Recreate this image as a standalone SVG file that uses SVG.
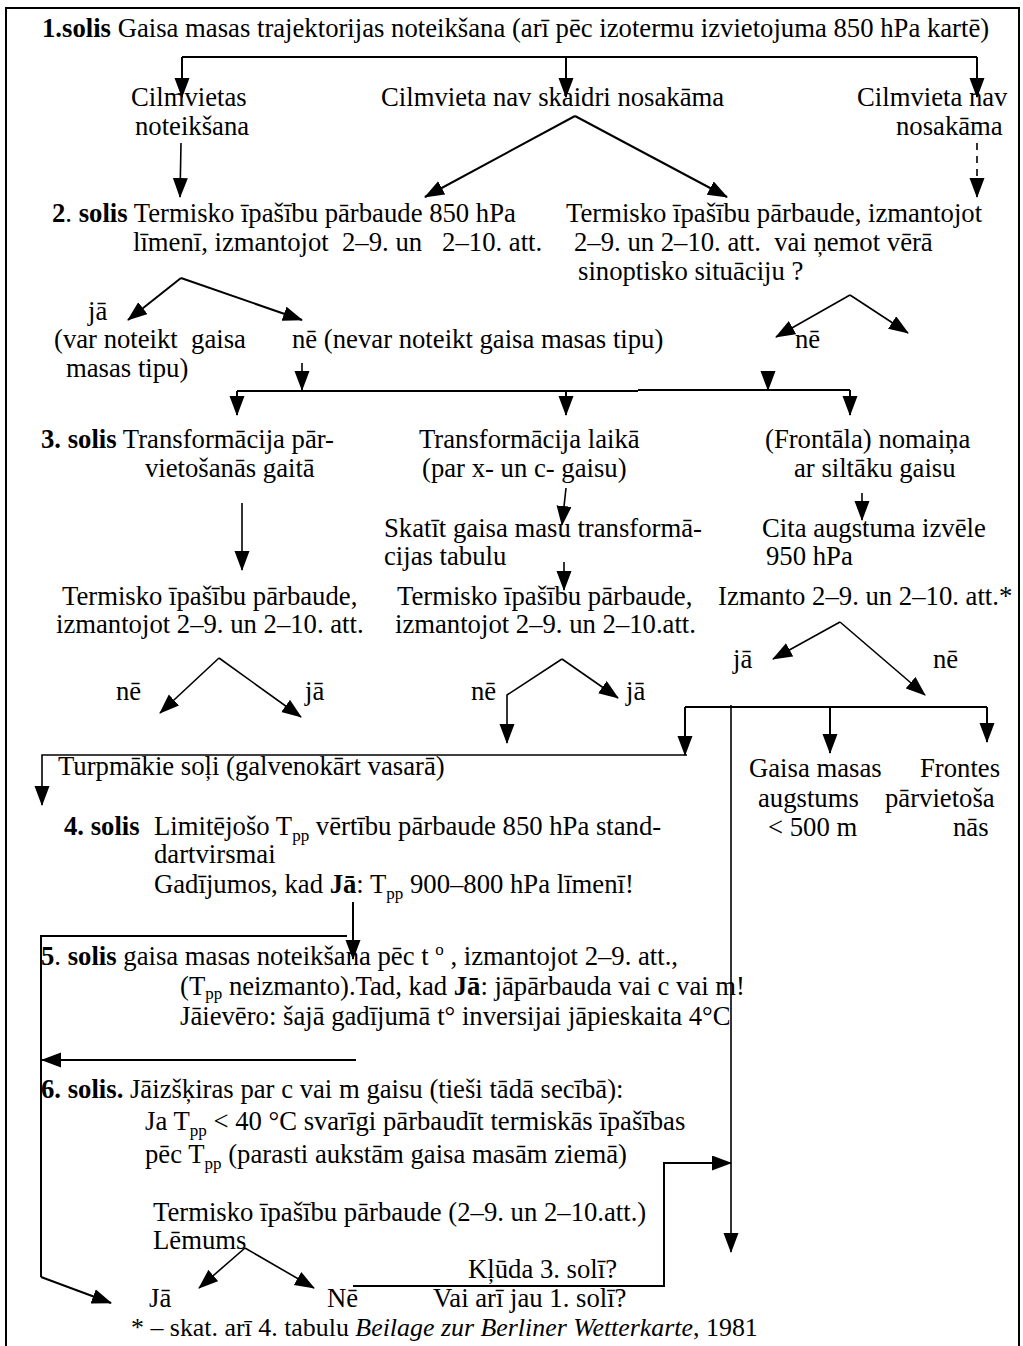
<svg xmlns="http://www.w3.org/2000/svg" width="1023" height="1346" viewBox="0 0 1023 1346" xml:space="preserve">
<defs>
<style>
text{font-family:"Liberation Serif","Times New Roman",serif;font-size:26.7px;fill:#000;white-space:pre}
.b{font-weight:bold}
.i{font-style:italic}
.sub{font-size:17px}
.fn{font-size:25.9px}
.ln{stroke:#000;stroke-width:2;fill:none}
.th{stroke:#000;stroke-width:1.6;fill:none}
.ar{marker-end:url(#ah)}
.dash{stroke-dasharray:7 6}
</style>
<marker id="ah" markerUnits="userSpaceOnUse" markerWidth="20" markerHeight="16" refX="19" refY="7.5" orient="auto" viewBox="0 0 20 16">
<path d="M0,0 L20,7.5 L0,15 z" fill="#000"/>
</marker>
</defs>
<rect width="1023" height="1346" fill="#fff"/>
<path class="ln" d="M6,1346 V8 H1019 V1346" stroke-width="2.5"/>

<g id="connectors">
<path class="ln" d="M182,57 H977"/>
<path class="ln ar" d="M182,57 V97"/>
<path class="ln ar" d="M566,57 V97"/>
<path class="ln ar" d="M977,57 V97"/>
<path class="th ar" d="M181,143 L180,197"/>
<path class="th ar dash" d="M977,143 V197"/>
<path class="ln ar" d="M575,116 L425,197"/>
<path class="ln ar" d="M575,116 L727,197"/>
<path class="ln ar" d="M181,278 L128,320"/>
<path class="ln ar" d="M181,278 L302,320"/>
<path class="th ar" d="M850,295 L776,337"/>
<path class="th ar" d="M850,295 L908,333"/>
<path class="th ar" d="M302,363 V390"/>
<path class="th ar" d="M768,377 V390"/>
<path class="ln" d="M237,391 H638 M638,390 H850"/>
<path class="ln ar" d="M237,391 V415"/>
<path class="ln ar" d="M566,391 V415"/>
<path class="ln ar" d="M850,390 V415"/>
<path class="th ar" d="M242,503 V570"/>
<path class="th ar" d="M566,488 L562,525"/>
<path class="th ar" d="M862,493 V520"/>
<path class="th ar" d="M564,562 V590"/>
<path class="th ar" d="M219,658 L160,713"/>
<path class="th ar" d="M219,658 L301,717"/>
<path class="th ar" d="M562,659 L507,695 V743"/>
<path class="th ar" d="M562,659 L618,698"/>
<path class="th ar" d="M840,622 L773,659"/>
<path class="th ar" d="M840,622 L925,695"/>
<path class="ln" d="M685,707 H987"/>
<path class="ln ar" d="M685,707 V755"/>
<path class="ln ar" d="M830,707 V753"/>
<path class="ln ar" d="M987,707 V742"/>
<path class="th ar" d="M731,705 V1252"/>
<path class="th ar" d="M687,755 H42 V805"/>
<path class="ln ar" d="M353,902 V959"/>
<path class="ln" d="M347,936 H41 V1277"/>
<path class="ln ar" d="M41,1277 L111,1303"/>
<path class="ln ar" d="M356,1060 H42"/>
<path class="th ar" d="M245,1248 L199,1288"/>
<path class="th ar" d="M245,1248 L314,1288"/>
<path class="ln ar" d="M353,1286 H664 V1163 H731"/>
</g>

<g id="step1"><text x="42" y="37"><tspan class="b">1.solis</tspan> Gaisa masas trajektorijas noteikšana (arī pēc izotermu izvietojuma 850 hPa kartē)</text></g>
<g id="cilmvietas-noteiksana"><text x="131" y="106">Cilmvietas</text><text x="135" y="135">noteikšana</text></g>
<g id="nav-skaidri"><text x="381" y="106">Cilmvieta nav skaidri nosakāma</text></g>
<g id="nav-nosakama"><text x="857" y="106">Cilmvieta nav</text><text x="896" y="135">nosakāma</text></g>

<g id="step2"><text x="52" y="222"><tspan class="b">2</tspan>. <tspan class="b">solis</tspan> Termisko īpašību pārbaude 850 hPa</text><text x="133" y="251">līmenī, izmantojot  2–9. un   2–10. att.</text></g>
<g id="step2-right"><text x="566" y="222">Termisko īpašību pārbaude, izmantojot</text><text x="574" y="251">2–9. un 2–10. att.  vai ņemot vērā</text><text x="578" y="280">sinoptisko situāciju ?</text></g>
<g id="ja-1"><text x="88" y="320">jā</text><text x="54" y="348">(var noteikt  gaisa</text><text x="66" y="377">masas tipu)</text></g>
<g id="ne-1"><text x="292" y="348">nē (nevar noteikt gaisa masas tipu)</text></g>
<g id="ne-2"><text x="795" y="348">nē</text></g>

<g id="step3"><text x="41" y="448"><tspan class="b">3. solis</tspan> Transformācija pār-</text><text x="145" y="477">vietošanās gaitā</text></g>
<g id="transf-laika"><text x="419" y="448">Transformācija laikā</text><text x="422" y="477">(par x- un c- gaisu)</text></g>
<g id="frontala"><text x="765" y="448">(Frontāla) nomaiņa</text><text x="794" y="477">ar siltāku gaisu</text></g>
<g id="skatit"><text x="384" y="537">Skatīt gaisa masu transformā-</text><text x="384" y="565">cijas tabulu</text></g>
<g id="cita"><text x="762" y="537">Cita augstuma izvēle</text><text x="766" y="565">950 hPa</text></g>
<g id="termisko-a"><text x="62" y="605">Termisko īpašību pārbaude,</text><text x="56" y="633">izmantojot 2–9. un 2–10. att.</text></g>
<g id="termisko-b"><text x="397" y="605">Termisko īpašību pārbaude,</text><text x="395" y="633">izmantojot 2–9. un 2–10.att.</text></g>
<g id="izmanto"><text x="718" y="605">Izmanto 2–9. un 2–10. att.*</text></g>
<g id="labels-3"><text x="116" y="700">nē</text><text x="305" y="700">jā</text><text x="471" y="700">nē</text><text x="626" y="700">jā</text><text x="733" y="668">jā</text><text x="933" y="668">nē</text></g>

<g id="turpmakie"><text x="58" y="775">Turpmākie soļi (galvenokārt vasarā)</text></g>
<g id="augstums"><text x="749" y="777">Gaisa masas</text><text x="758" y="807">augstums</text><text x="768" y="836">&lt; 500 m</text></g>
<g id="frontes"><text x="920" y="777">Frontes</text><text x="885" y="807">pārvietoša</text><text x="953" y="836">nās</text></g>

<g id="step4"><text x="64" y="835" class="b">4. solis</text><text x="154" y="835">Limitējošo T<tspan class="sub" dy="6">pp</tspan><tspan dy="-6"> vērtību pārbaude 850 hPa stand-</tspan></text><text x="154" y="863">dartvirsmai</text><text x="154" y="893">Gadījumos, kad <tspan class="b">Jā</tspan>: T<tspan class="sub" dy="6">pp</tspan><tspan dy="-6"> 900–800 hPa līmenī!</tspan></text></g>

<g id="step5"><text x="41" y="965"><tspan class="b">5</tspan>. <tspan class="b">solis</tspan> gaisa masas noteikšana pēc t <tspan class="sub" dy="-10">o</tspan><tspan dy="10"> , izmantojot 2–9. att.,</tspan></text><text x="180" y="995">(T<tspan class="sub" dy="4">pp</tspan><tspan dy="-4"> neizmanto).Tad, kad </tspan><tspan class="b">Jā</tspan>: jāpārbauda vai c vai m!</text><text x="180" y="1025">Jāievēro: šajā gadījumā t° inversijai jāpieskaita 4°C</text></g>

<g id="step6"><text x="41" y="1098"><tspan class="b">6. solis.</tspan> Jāizšķiras par c vai m gaisu (tieši tādā secībā):</text><text x="145" y="1130">Ja T<tspan class="sub" dy="6">pp</tspan><tspan dy="-6"> &lt; 40 °C svarīgi pārbaudīt termiskās īpašības</tspan></text><text x="145" y="1163">pēc T<tspan class="sub" dy="6">pp</tspan><tspan dy="-6"> (parasti aukstām gaisa masām ziemā)</tspan></text></g>
<g id="lemums"><text x="153" y="1221">Termisko īpašību pārbaude (2–9. un 2–10.att.)</text><text x="153" y="1249">Lēmums</text></g>
<g id="ja-final"><text x="149" y="1307">Jā</text></g>
<g id="ne-final"><text x="327" y="1307">Nē</text></g>
<g id="kluda"><text x="468" y="1278">Kļūda 3. solī?</text><text x="433" y="1307">Vai arī jau 1. solī?</text></g>
<g id="footnote"><text x="131" y="1336" class="fn">* – skat. arī 4. tabulu <tspan class="i">Beilage zur Berliner Wetterkarte</tspan>, 1981</text></g>
</svg>
